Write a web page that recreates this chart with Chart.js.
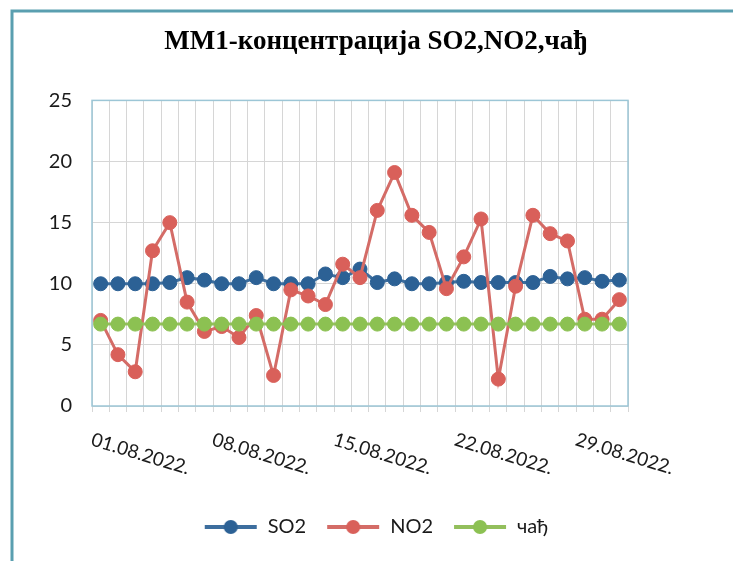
<!DOCTYPE html>
<html>
<head>
<meta charset="utf-8">
<script src="https://cdn.jsdelivr.net/npm/chart.js@4/dist/chart.umd.min.js"></script>
<style>
  html, body { margin: 0; padding: 0; background: #fff; }
  #wrap { width: 733px; height: 561px; }
</style>
</head>
<body>
<div id="wrap"><canvas id="myChart" width="733" height="561"></canvas></div>
<script>
// dani u avgustu 2022.
var dates = ['01.08.2022.', '02.08.2022.', '03.08.2022.', '04.08.2022.', '05.08.2022.', '06.08.2022.',
	'07.08.2022.', '08.08.2022.', '09.08.2022.', '10.08.2022.', '11.08.2022.', '12.08.2022.',
	'13.08.2022.', '14.08.2022.', '15.08.2022.', '16.08.2022.', '17.08.2022.', '18.08.2022.',
	'19.08.2022.', '20.08.2022.', '21.08.2022.', '22.08.2022.', '23.08.2022.', '24.08.2022.',
	'25.08.2022.', '26.08.2022.', '27.08.2022.', '28.08.2022.', '29.08.2022.', '30.08.2022.',
	'31.08.2022.'];

var so2 = [10.0, 10.0, 10.0, 10.0, 10.1, 10.5, 10.3, 10.0, 10.0, 10.5, 10.0, 10.0, 10.0, 10.8, 10.5, 11.2,
	10.1, 10.4, 10.0, 10.0, 10.1, 10.2, 10.1, 10.1, 10.1, 10.1, 10.6, 10.4, 10.5, 10.2, 10.3];

var no2 = [7.0, 4.2, 2.8, 12.7, 15.0, 8.5, 6.1, 6.5, 5.6, 7.4, 2.5, 9.5, 9.0, 8.3, 11.6, 10.5,
	16.0, 19.1, 15.6, 14.2, 9.6, 12.2, 15.3, 2.2, 9.8, 15.6, 14.1, 13.5, 7.1, 7.1, 8.7];

var cad = [6.7, 6.7, 6.7, 6.7, 6.7, 6.7, 6.7, 6.7, 6.7, 6.7, 6.7, 6.7, 6.7, 6.7, 6.7, 6.7,
	6.7, 6.7, 6.7, 6.7, 6.7, 6.7, 6.7, 6.7, 6.7, 6.7, 6.7, 6.7, 6.7, 6.7, 6.7];

var yTicks = [0, 5, 10, 15, 20, 25];
var labelEvery = 7;

var colors = {
	so2: { line: '#3d6e9e', point: '#2c6195' },
	no2: { line: '#d46c67', point: '#d9605a' },
	cad: { line: '#93bf5c', point: '#8cc152' }
};

// mala slicica za legendu: linija + krug
function legendIcon(c) {
	var cv = document.createElement('canvas');
	cv.width = 54; cv.height = 16;
	var g = cv.getContext('2d');
	g.strokeStyle = c.line; g.lineWidth = 4;
	g.beginPath(); g.moveTo(1, 8); g.lineTo(53, 8); g.stroke();
	g.fillStyle = c.point;
	g.beginPath(); g.arc(27, 8, 7, 0, Math.PI * 2); g.fill();
	return cv;
}

var framePlugin = {
	id: 'frame',
	beforeDraw: function(chart) {
		var ctx = chart.ctx;
		ctx.save();
		ctx.fillStyle = '#fff';
		ctx.fillRect(0, 0, chart.width, chart.height);
		ctx.strokeStyle = '#5a9fb0';
		ctx.lineWidth = 3;
		ctx.beginPath();
		ctx.moveTo(12, 561); ctx.lineTo(12, 11); ctx.lineTo(733, 11);
		ctx.stroke();
		ctx.restore();
	},
	beforeDatasetsDraw: function(chart) {
		var a = chart.chartArea, ctx = chart.ctx;
		ctx.save();
		ctx.strokeStyle = '#9cc6d6';
		ctx.lineWidth = 1.5;
		ctx.strokeRect(a.left, a.top, a.right - a.left, a.bottom - a.top);
		ctx.restore();
	}
};

var xLabelPlugin = {
	id: 'xLabels',
	afterDraw: function(chart) {
		var ctx = chart.ctx, sc = chart.scales.x;
		ctx.save();
		ctx.font = '19px Lato';
		ctx.fillStyle = '#1a1a1a';
		ctx.textAlign = 'left';
		ctx.textBaseline = 'top';
		for (var i = 0; i < dates.length; i += labelEvery) {
			var x = sc.getPixelForValue(i);
			ctx.save();
			ctx.translate(x - 6, chart.chartArea.bottom + 24);
			ctx.rotate(17 * Math.PI / 180);
			ctx.fillText(dates[i], 0, 0);
			ctx.restore();
		}
		ctx.restore();
	}
};

var icons = [legendIcon(colors.so2), legendIcon(colors.no2), legendIcon(colors.cad)];

function makeSet(label, data, c, order) {
	return {
		label: label,
		data: data,
		borderColor: c.line,
		backgroundColor: c.point,
		pointBackgroundColor: c.point,
		pointBorderColor: c.point,
		borderWidth: 3,
		pointRadius: 7,
		pointBorderWidth: 1,
		order: order
	};
}

var config = {
	type: 'line',
	data: {
		labels: dates,
		datasets: [
			makeSet('SO2', so2, colors.so2, 3),
			makeSet('NO2', no2, colors.no2, 2),
			makeSet('чађ', cad, colors.cad, 1)
		]
	},
	options: {
		responsive: false,
		animation: false,
		layout: { padding: { left: 20, right: 1, top: 22, bottom: 14 } },
		plugins: {
			title: {
				display: true,
				text: 'ММ1-концентрација SO2,NO2,чађ',
				color: '#000',
				font: { family: 'Liberation Serif', size: 27, weight: 'bold' },
				padding: { top: 4, bottom: 42 }
			},
			legend: {
				position: 'bottom',
				labels: {
					usePointStyle: true,
					pointStyleWidth: 54,
					color: '#1a1a1a',
					font: { family: 'Lato', size: 20 },
					padding: 20,
					sort: function(a, b) { return a.datasetIndex - b.datasetIndex; },
					generateLabels: function(chart) {
						var items = Chart.defaults.plugins.legend.labels.generateLabels(chart);
						items.forEach(function(it) { it.pointStyle = icons[it.datasetIndex]; });
						return items;
					}
				}
			},
			tooltip: { enabled: false }
		},
		scales: {
			x: {
				offset: true,
				grid: { offset: true, color: '#d6d6d6', lineWidth: 1, tickLength: 6 },
				border: { display: false },
				ticks: { display: false },
				afterFit: function(scale) { scale.height = 91; }
			},
			y: {
				min: 0,
				max: 25,
				afterBuildTicks: function(scale) {
					scale.ticks = yTicks.map(function(v) { return { value: v }; });
				},
				grid: { color: '#d6d6d6', lineWidth: 1, drawTicks: false },
				border: { display: false },
				ticks: { color: '#1a1a1a', font: { family: 'Lato', size: 20 }, padding: 20 },
				afterFit: function(scale) { scale.width = 72; }
			},
			// prazna desna osa samo da bi naslov i legenda bili centrirani kao na slici
			yRight: {
				position: 'right',
				min: 0,
				max: 25,
				grid: { display: false },
				border: { display: false },
				ticks: { display: false },
				afterFit: function(scale) { scale.width = 104; }
			}
		}
	},
	plugins: [framePlugin, xLabelPlugin]
};

var ctx = document.getElementById('myChart').getContext('2d');
window.myLine = new Chart(ctx, config);
</script>
</body>
</html>
